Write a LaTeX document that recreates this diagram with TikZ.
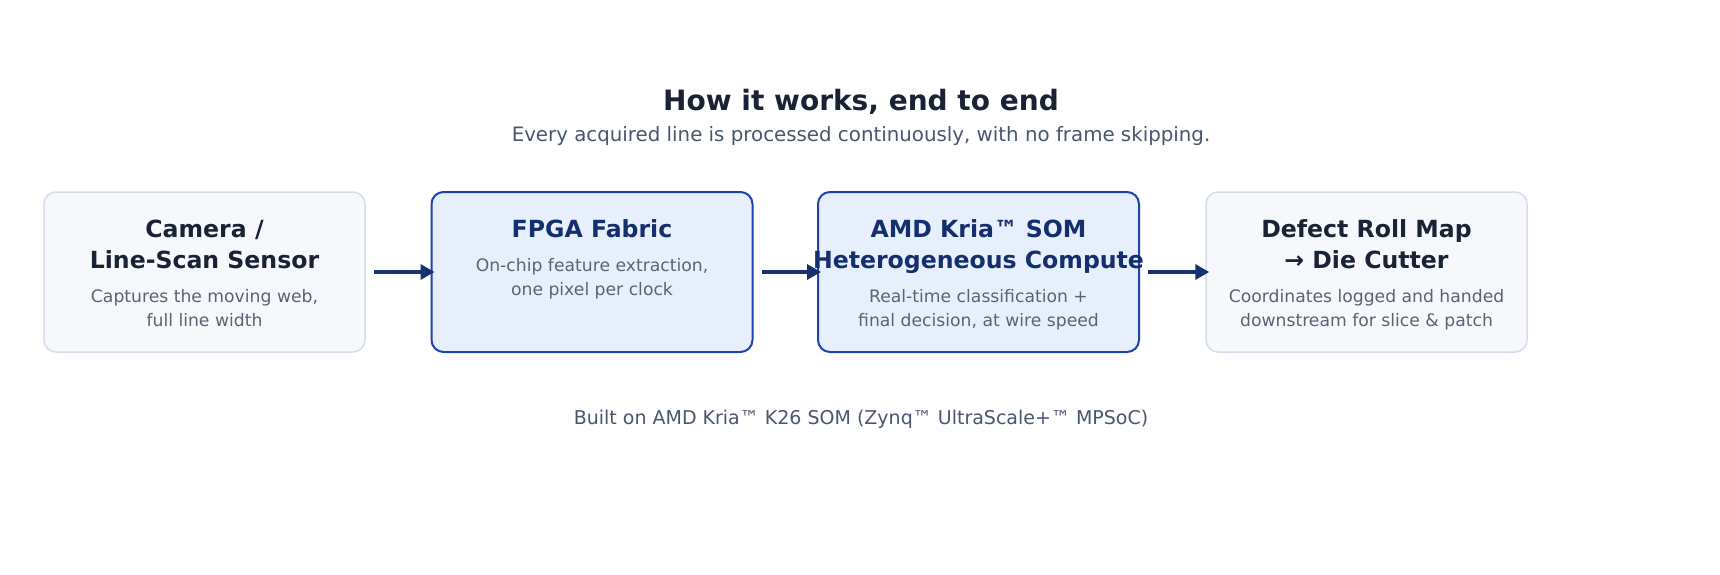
\documentclass[tikz,border=0pt]{standalone}
\usepackage{fontspec}
\setmainfont{DejaVu Sans}
\usetikzlibrary{arrows.meta}
\definecolor{arrowc}{HTML}{17306F}
\definecolor{blueborder}{HTML}{1D43AE}
\definecolor{bluefill}{HTML}{E8EFFC}
\definecolor{bluetext}{HTML}{142F6E}
\definecolor{lightfill}{HTML}{F6F8FC}
\definecolor{lightborder}{HTML}{D6DDEA}
\definecolor{darktext}{HTML}{1A2236}
\definecolor{desctext}{HTML}{5B6373}
\definecolor{subtext}{HTML}{4A5570}
\begin{document}
\begin{tikzpicture}[x=1pt,y=-1pt,
  lightbox/.style={draw=lightborder, fill=lightfill, line width=1.5pt, rounded corners=12pt, minimum width=321pt, minimum height=160pt, inner sep=0pt},
  bluebox/.style={draw=blueborder, fill=bluefill, line width=2pt, rounded corners=12pt, minimum width=321pt, minimum height=160pt, inner sep=0pt},
  ttl/.style={anchor=base, inner sep=0pt, font=\fontsize{23.6}{28}\selectfont\bfseries},
  dsc/.style={anchor=base, inner sep=0pt, text=desctext, font=\fontsize{17.2}{20}\selectfont},
  arr/.style={draw=arrowc, line width=3.3pt, -{Triangle[length=14pt,width=15pt]}, shorten <=8pt, shorten >=-4pt}
]
\useasboundingbox[fill=white] (0,0) rectangle (1720,574);

% title
\node[anchor=base, inner sep=0pt, text=darktext, font=\fontsize{28}{32}\selectfont\bfseries] (title) at (861,110.5) {How it works, end to end};
\node[anchor=base, inner sep=0pt, text=subtext, font=\fontsize{19.8}{22}\selectfont] (subtitle) at (861,141.5) {Every acquired line is processed continuously, with no frame skipping.};

% boxes
\node[lightbox] (cam) at (204.5,272) {};
\node[bluebox] (fpga) at (592,272) {};
\node[bluebox] (kria) at (978.5,272) {};
\node[lightbox] (map) at (1366.5,272) {};

% box 1 text
\node[ttl, text=darktext] (camT1) at (204.5,237) {Camera /};
\node[ttl, text=darktext] (camT2) at (204.5,268) {Line-Scan Sensor};
\node[dsc] (camD1) at (204.5,302) {Captures the moving web,};
\node[dsc] (camD2) at (204.5,326) {full line width};

% box 2 text
\node[ttl, text=bluetext] (fpgaT1) at (592,237) {FPGA Fabric};
\node[dsc] (fpgaD1) at (592,271) {On-chip feature extraction,};
\node[dsc] (fpgaD2) at (592,295) {one pixel per clock};

% box 3 text
\node[ttl, text=bluetext] (kriaT1) at (978.5,237) {AMD Kria™ SOM};
\node[ttl, text=bluetext] (kriaT2) at (978.5,268) {Heterogeneous Compute};
\node[dsc] (kriaD1) at (978.5,302) {Real-time classification +};
\node[dsc] (kriaD2) at (978.5,326) {final decision, at wire speed};

% box 4 text
\node[ttl, text=darktext] (mapT1) at (1366.5,237) {Defect Roll Map};
\node[ttl, text=darktext] (mapT2) at (1366.5,268) {→ Die Cutter};
\node[dsc] (mapD1) at (1366.5,302) {Coordinates logged and handed};
\node[dsc] (mapD2) at (1366.5,326) {downstream for slice \& patch};

% arrows
\draw[arr] (cam.east) -- (fpga.west);
\draw[arr] (fpga.east) -- (kria.west);
\draw[arr] (kria.east) -- (map.west);

% footer
\node[anchor=base, inner sep=0pt, text=subtext, font=\fontsize{19}{22}\selectfont] (footer) at (861,424) {Built on AMD Kria™ K26 SOM (Zynq™ UltraScale+™ MPSoC)};
\end{tikzpicture}
\end{document}
